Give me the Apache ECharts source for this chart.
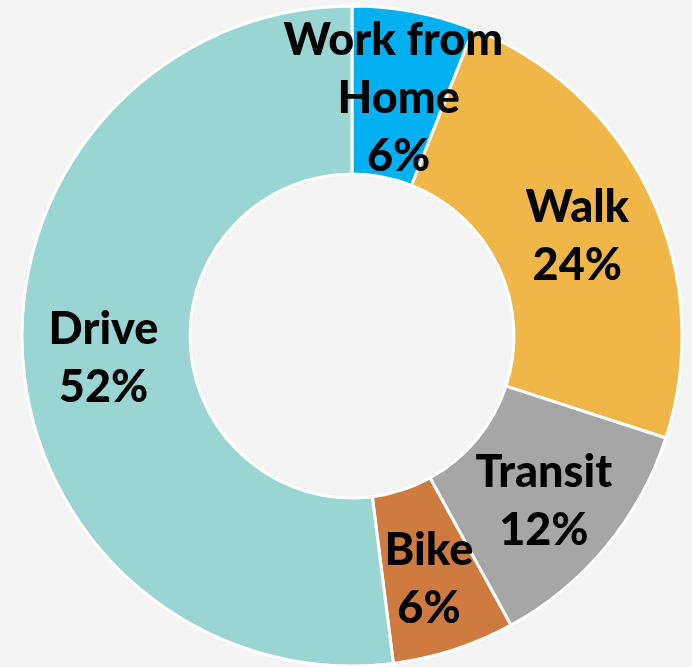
<!DOCTYPE html>
<html>
<head>
<meta charset="utf-8">
<script src="https://cdn.jsdelivr.net/npm/echarts@6/dist/echarts.min.js"></script>
<style>
  html, body { margin: 0; padding: 0; background: #f4f4f4; }
  #main { width: 692px; height: 667px; }
</style>
</head>
<body>
<div id="main"></div>
<script>
// commute mode share (%)
var modes = ['Work from Home', 'Walk', 'Transit', 'Bike', 'Drive'];
var shares = [6, 24, 12, 6, 52];
var colors = ['#00b0f0', '#f0b648', '#a6a6a6', '#cf7a3f', '#98d5d3'];

var chart = echarts.init(document.getElementById('main'));
var option = {
  backgroundColor: '#f4f4f4',
  animation: false,
  series: [
    {
      type: 'pie',
      center: [352, 336],
      radius: [162, 330],
      startAngle: 90,
      clockwise: true,
      avoidLabelOverlap: false,
      minShowLabelAngle: 0,
      data: modes.map(function (m, i) {
        return { name: m, value: shares[i], itemStyle: { color: colors[i] } };
      }),
      itemStyle: { borderColor: '#ffffff', borderWidth: 3 },
      label: {
        show: true,
        position: 'inside',
        formatter: '{b}\n{c}%',
        color: '#000',
        fontFamily: 'Lato',
        fontWeight: 900,
        fontSize: 45,
        lineHeight: 58,
        width: 235,
        overflow: 'break',
        align: 'center',
        offset: [0, 7]
      },
      labelLayout: { hideOverlap: false },
      labelLine: { show: false },
      emphasis: { disabled: true }
    }
  ]
};
chart.setOption(option);
</script>
</body>
</html>
